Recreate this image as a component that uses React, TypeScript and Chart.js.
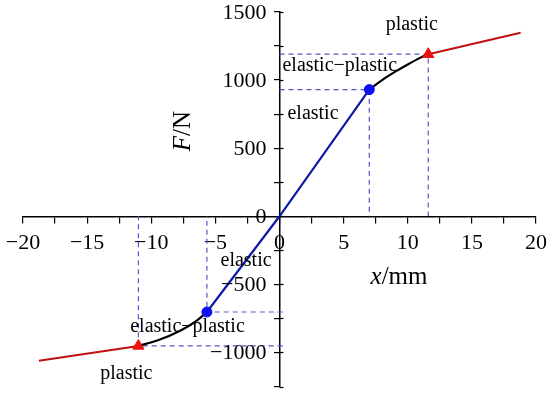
import React, { useEffect, useRef } from 'react';
import { Chart, registerables } from 'chart.js';

Chart.register(...registerables);

// Curve segments (x in mm, F in N)
const elasticX = [-5.66, 0, 7];
const elasticF = [-703, 0, 930];

const epPosX = [7, 8, 9, 10, 11, 11.6];
const epPosF = [930, 1000, 1060, 1115, 1165, 1190];

const epNegX = [-5.66, -6.5, -7.67, -9.48, -11];
const epNegF = [-703, -770, -837, -911, -952];

const plPosX = [11.6, 18.8];
const plPosF = [1190, 1347];

const plNegX = [-11, -18.76];
const plNegF = [-952, -1061];

// Key points
const yieldX = [7, -5.66];
const yieldF = [930, -703];
const plasticX = [11.6, -11];
const plasticF = [1190, -952];

// Tick labels
const yTickLabels = [1500, 1000, 500, 0, -500, -1000];

// Annotation labels
const annoText = ['plastic', 'elastic\u2212plastic', 'elastic', 'elastic', 'elastic\u2212plastic', 'plastic'];
const annoX = [8.28, 0.23, 0.62, -4.6, -11.64, -13.98];
const annoY = [1369, 1065, 717, -364, -849, -1193];

const xTitleX = 7.1;
const xTitleY = -496;
const yTitleX = -6.95;
const yTitleY = 478;

const zip = (xs: number[], ys: number[]) => xs.map((x, i) => ({ x, y: ys[i] }));

const SERIF = '"Liberation Serif", "Times New Roman", serif';
const minus = (v: number) => String(v).replace('-', '\u2212');

const guideColor = '#5656cc';

const noPad = (scale: any) => {
  scale.paddingTop = 0;
  scale.paddingBottom = 0;
  scale.paddingLeft = 0;
  scale.paddingRight = 0;
};

export default function App() {
  const ref = useRef<HTMLCanvasElement | null>(null);

  useEffect(() => {
    if (!ref.current) return;

    const guide = (px: number, py: number) => ({
      data: [
        { x: px > 0 ? 0 : 0.25, y: py },
        { x: px, y: py },
        { x: px, y: 0 },
      ],
      showLine: true,
      borderColor: guideColor,
      borderWidth: 1.2,
      borderDash: [5, 4],
      pointRadius: 0,
      order: 10,
    });

    const textPlugin = {
      id: 'texts',
      afterDraw(chart: any) {
        const { ctx } = chart;
        const xs = chart.scales.x;
        const ys = chart.scales.y;
        ctx.save();
        const x0 = xs.getPixelForValue(0);
        // extra ticks to the right of the y axis
        ctx.strokeStyle = '#000';
        ctx.lineWidth = 1.2;
        for (let v = -1250; v <= 1500; v += 250) {
          const py = Math.round(ys.getPixelForValue(v)) + 0.5;
          ctx.beginPath();
          ctx.moveTo(x0, py);
          ctx.lineTo(x0 + 4, py);
          ctx.stroke();
        }
        // y tick labels
        ctx.fillStyle = '#000';
        ctx.font = `22px ${SERIF}`;
        ctx.textAlign = 'right';
        ctx.textBaseline = 'middle';
        yTickLabels.forEach((v) => {
          ctx.fillText(minus(v), x0 - 13, ys.getPixelForValue(v) + 1);
        });
        // annotations
        ctx.textAlign = 'left';
        ctx.textBaseline = 'alphabetic';
        ctx.font = `20px ${SERIF}`;
        annoText.forEach((t, i) => {
          ctx.fillText(t, xs.getPixelForValue(annoX[i]), ys.getPixelForValue(annoY[i]));
        });
        // x title
        let px = xs.getPixelForValue(xTitleX);
        const py = ys.getPixelForValue(xTitleY);
        ctx.font = `italic 25px ${SERIF}`;
        ctx.fillText('x', px, py);
        px += ctx.measureText('x').width;
        ctx.font = `25px ${SERIF}`;
        ctx.fillText('/mm', px, py);
        // y title (rotated)
        ctx.translate(xs.getPixelForValue(yTitleX), ys.getPixelForValue(yTitleY));
        ctx.rotate(-Math.PI / 2);
        ctx.font = `italic 25px ${SERIF}`;
        ctx.fillText('F', 0, 0);
        const w = ctx.measureText('F').width;
        ctx.font = `25px ${SERIF}`;
        ctx.fillText('/N', w, 0);
        ctx.restore();
      },
    };

    const curve = (xs: number[], ys: number[], color: string, width: number, smooth: boolean) => ({
      data: zip(xs, ys),
      showLine: true,
      borderColor: color,
      borderWidth: width,
      pointRadius: 0,
      cubicInterpolationMode: smooth ? 'monotone' : 'default',
      tension: 0,
      order: 2,
    });

    const chart = new Chart(ref.current, {
      type: 'scatter',
      data: {
        datasets: [
          { data: zip(yieldX, yieldF), pointStyle: 'circle', pointRadius: 5, backgroundColor: '#0a10f0', borderColor: '#0a10f0', showLine: false, order: 0 } as any,
          { data: zip(plasticX, plasticF), pointStyle: 'triangle', pointRadius: 6.5, backgroundColor: '#ee1111', borderColor: '#ee1111', showLine: false, order: 0 } as any,
          curve(elasticX, elasticF, '#0c1aa8', 2.2, false) as any,
          curve(epPosX, epPosF, '#000000', 2.2, true) as any,
          curve(epNegX, epNegF, '#000000', 2.2, true) as any,
          curve(plPosX, plPosF, '#c01010', 2, false) as any,
          curve(plNegX, plNegF, '#c01010', 2, false) as any,
          guide(yieldX[0], yieldF[0]) as any,
          guide(plasticX[0], plasticF[0]) as any,
          guide(yieldX[1], yieldF[1]) as any,
          guide(plasticX[1], plasticF[1]) as any,
        ],
      },
      options: {
        animation: false,
        responsive: true,
        maintainAspectRatio: false,
        layout: { padding: { left: 23, right: 14, top: 12, bottom: 6 } },
        plugins: { legend: { display: false }, tooltip: { enabled: false } },
        scales: {
          x: {
            type: 'linear',
            min: -20,
            max: 20,
            position: { y: 0 } as any,
            afterFit: noPad,
            grid: { display: true, drawOnChartArea: false, drawTicks: true, tickLength: 6, color: '#000', lineWidth: 1.2 },
            border: { display: true, color: '#000', width: 1.5 },
            ticks: {
              stepSize: 2.5,
              autoSkip: false,
              maxRotation: 0,
              padding: 8,
              color: '#000',
              font: { family: SERIF, size: 22 },
              callback: (v: any) => (Number(v) % 5 === 0 ? minus(Number(v)) : ''),
            },
          },
          y: {
            type: 'linear',
            min: -1250,
            max: 1500,
            position: { x: 0 } as any,
            afterFit: noPad,
            grid: { display: true, drawOnChartArea: false, drawTicks: true, tickLength: 5, color: '#000', lineWidth: 1.2 },
            border: { display: true, color: '#000', width: 1.5 },
            ticks: {
              stepSize: 250,
              autoSkip: false,
              display: false,
              color: '#000',
              font: { family: SERIF, size: 22 },
            },
          },
        },
      },
      plugins: [textPlugin],
    });

    return () => chart.destroy();
  }, []);

  return (
    <div style={{ position: 'fixed', left: 0, top: 0, width: 550, height: 394, background: '#fff' }}>
      <canvas ref={ref} />
    </div>
  );
}
